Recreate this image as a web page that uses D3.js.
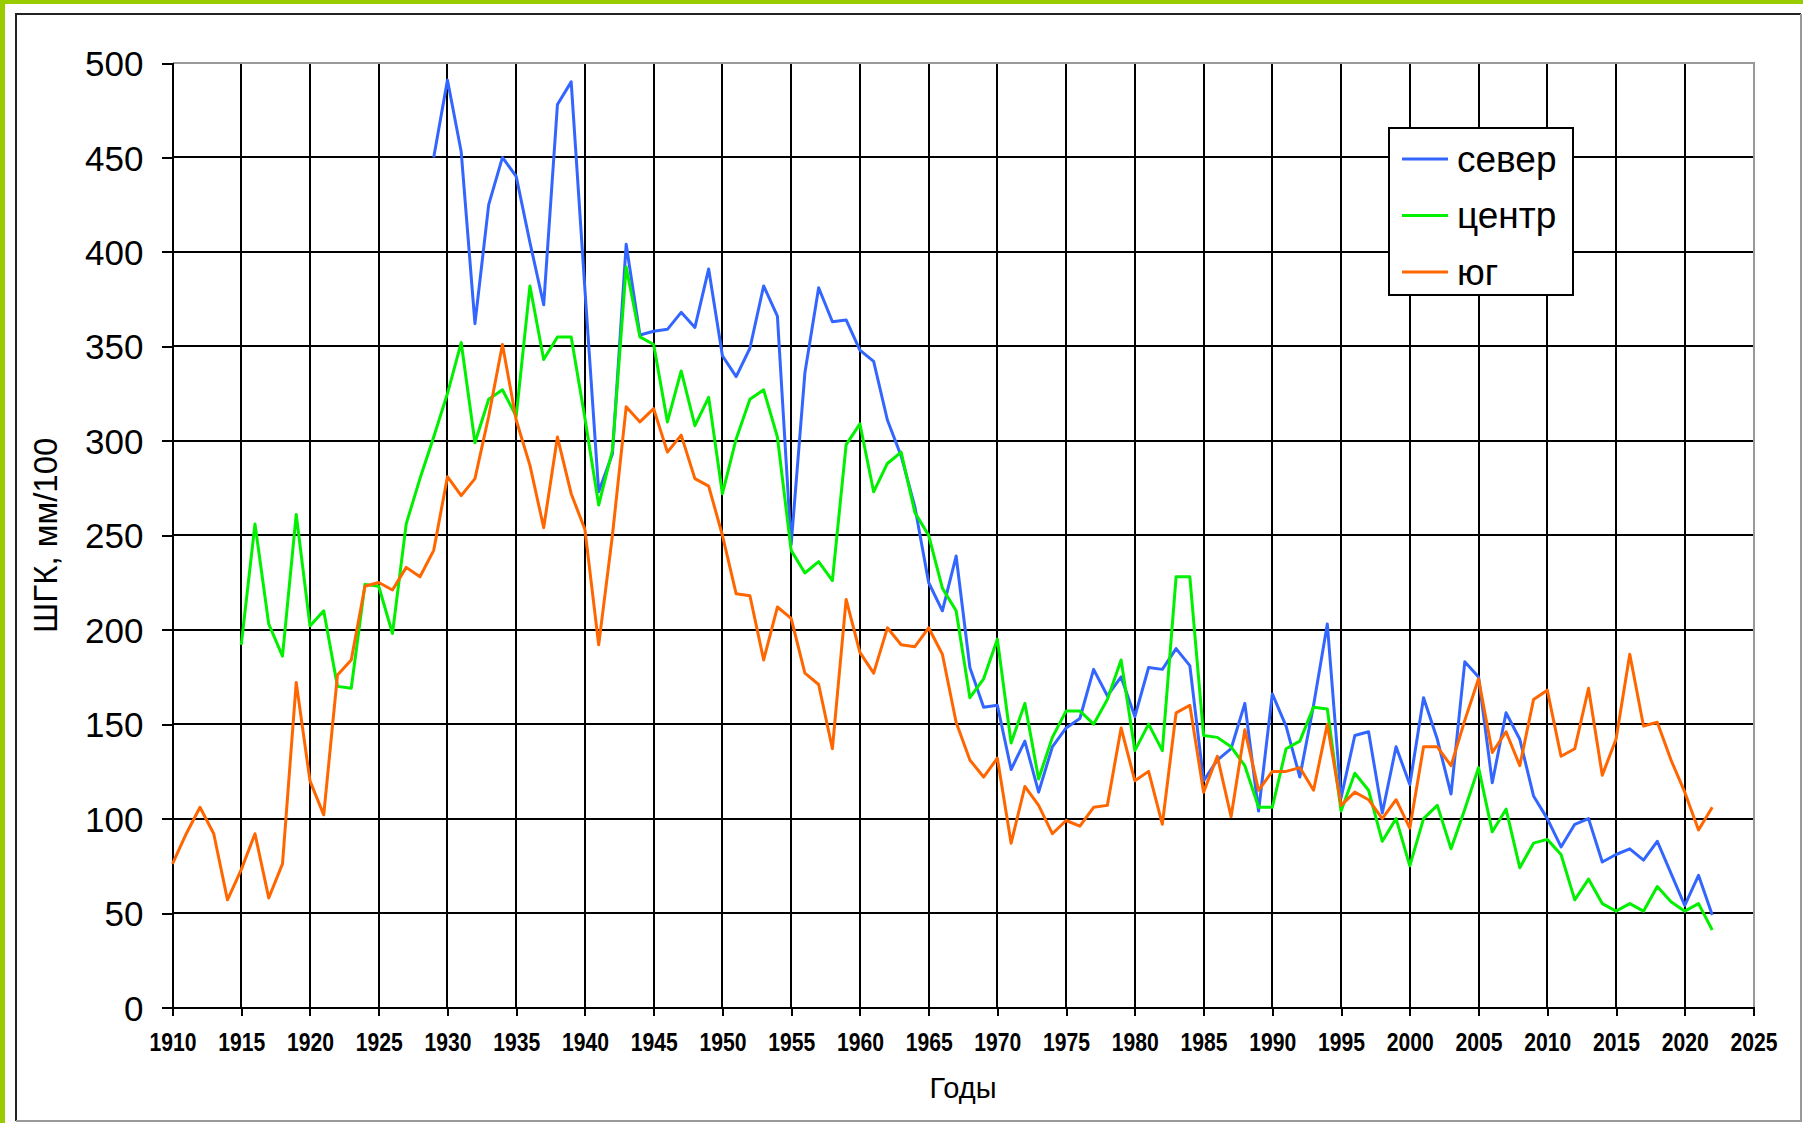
<!DOCTYPE html>
<html>
<head>
<meta charset="utf-8">
<script src="https://cdn.jsdelivr.net/npm/d3@7"></script>
<style>
  html, body { margin: 0; padding: 0; background: #fff; }
  svg { display: block; }
  text { font-family: "Liberation Sans", Arial, sans-serif; fill: #000; }
</style>
</head>
<body>
<svg width="1803" height="1123"></svg>
<script>
// ---- data (ШГК, мм/100) ----
const severStart = 1929;
const sever = [450, 491, 453, 362, 425, 450, 440, 405, 372, 478,
  490, 380, 273, 293, 404, 356, 358, 359, 368, 360,
  391, 345, 334, 349, 382, 366, 245, 336, 381, 363,
  364, 348, 342, 311, 292, 265, 225, 210, 239, 180,
  159, 160, 126, 141, 114, 138, 148, 153, 179, 165,
  175, 154, 180, 179, 190, 181, 120, 131, 137, 161,
  104, 166, 149, 122, 160, 203, 111, 144, 146, 103,
  138, 118, 164, 142, 113, 183, 175, 119, 156, 142,
  112, 100, 85, 97, 100, 77, 81, 84, 78, 88,
  71, 54, 70, 49];

const centrStart = 1915;
const centr = [192, 256, 203, 186, 261, 202, 210, 170, 169, 224,
  223, 198, 256, 280, 302, 325, 352, 299, 322, 327,
  313, 382, 343, 355, 355, 312, 266, 295, 392, 355,
  351, 310, 337, 308, 323, 272, 301, 322, 327, 302,
  242, 230, 236, 226, 298, 309, 273, 288, 294, 262,
  250, 222, 210, 164, 174, 195, 140, 161, 121, 143,
  157, 157, 150, 163, 184, 136, 150, 136, 228, 228,
  144, 143, 138, 128, 106, 106, 137, 141, 159, 158,
  104, 124, 115, 88, 100, 75, 100, 107, 84, 105,
  127, 93, 105, 74, 87, 89, 81, 57, 68, 55,
  51, 55, 51, 64, 56, 51, 55, 41];

const yugStart = 1910;
const yug = [76, 92, 106, 92, 57, 73, 92, 58, 76, 172,
  120, 102, 176, 184, 223, 225, 221, 233, 228, 242,
  281, 271, 280, 313, 351, 311, 287, 254, 302, 272,
  253, 192, 250, 318, 310, 317, 294, 303, 280, 276,
  250, 219, 218, 184, 212, 206, 177, 171, 137, 216,
  188, 177, 201, 192, 191, 201, 187, 151, 131, 122,
  132, 87, 117, 107, 92, 99, 96, 106, 107, 148,
  120, 125, 97, 156, 160, 114, 133, 101, 147, 115,
  125, 125, 127, 115, 150, 107, 114, 110, 100, 110,
  95, 138, 138, 128, 152, 174, 135, 146, 128, 163,
  168, 133, 137, 169, 123, 142, 187, 149, 151, 131,
  114, 94, 106];

const seriesNames = ["север", "центр", "юг"];
const seriesColors = ["#3366ff", "#00f000", "#ff6600"];
const yTicks = [0, 50, 100, 150, 200, 250, 300, 350, 400, 450, 500];
const xTicks = [1910, 1915, 1920, 1925, 1930, 1935, 1940, 1945, 1950, 1955, 1960, 1965,
  1970, 1975, 1980, 1985, 1990, 1995, 2000, 2005, 2010, 2015, 2020, 2025];
const xTitle = "Годы";
const yTitle = "ШГК, мм/100";

const svg = d3.select("svg");

// plot box
const pLeft = 172.5, pRight = 1753.5, pTop = 63, pBottom = 1007.5;
const x = d3.scaleLinear().domain([1910, 2025]).range([pLeft, pRight]);
const y = d3.scaleLinear().domain([0, 500]).range([pBottom, pTop]);

// page background + green edge + chart frame
svg.append("rect").attr("width", 1803).attr("height", 1123).attr("fill", "#fff");
svg.append("rect").attr("x", 0).attr("y", 0).attr("width", 1803).attr("height", 4).attr("fill", "#99cc00");
svg.append("rect").attr("x", 0).attr("y", 0).attr("width", 5).attr("height", 1123).attr("fill", "#99cc00");
svg.append("path").attr("d", "M16,1121V14H1801").attr("fill", "none").attr("stroke", "#222").attr("stroke-width", 2);
svg.append("path").attr("d", "M1801,14V1121H16").attr("fill", "none").attr("stroke", "#999").attr("stroke-width", 2);

// grid (black), skipping the edges
const grid = svg.append("g").attr("stroke", "#000").attr("stroke-width", 2).attr("shape-rendering", "crispEdges");
grid.selectAll(".gv").data(xTicks.slice(1, -1)).enter().append("line")
  .attr("x1", d => x(d)).attr("x2", d => x(d)).attr("y1", pTop).attr("y2", pBottom);
grid.selectAll(".gh").data(yTicks.slice(1, -1)).enter().append("line")
  .attr("x1", pLeft).attr("x2", pRight).attr("y1", d => y(d)).attr("y2", d => y(d));

// top / right border of the plot is grey
svg.append("path").attr("d", `M${pLeft},${pTop}H${pRight}V${pBottom}`)
  .attr("fill", "none").attr("stroke", "#999").attr("stroke-width", 2).attr("shape-rendering", "crispEdges");

// axes
const yAxis = svg.append("g").attr("transform", `translate(${pLeft},0)`)
  .call(d3.axisLeft(y).tickValues(yTicks).tickSize(11).tickPadding(18));
yAxis.selectAll("text").attr("font-size", 35).attr("dy", "0.36em")
  .style("font-family", "'Liberation Sans', Arial, sans-serif");

const xAxis = svg.append("g").attr("transform", `translate(0,${pBottom})`)
  .call(d3.axisBottom(x).tickValues(xTicks).tickFormat(d3.format("d")).tickSize(8).tickPadding(17));
// narrow bold labels: squeeze regular bold glyphs
xAxis.selectAll("text").attr("font-size", 26).attr("font-weight", "bold")
  .attr("textLength", 47).attr("lengthAdjust", "spacingAndGlyphs")
  .style("font-family", "'Liberation Sans', Arial, sans-serif");

[yAxis, xAxis].forEach(g => {
  g.selectAll("line").attr("stroke", "#000").attr("stroke-width", 2);
  g.select(".domain").attr("stroke", "#000").attr("stroke-width", 2);
  g.attr("shape-rendering", "crispEdges");
});

// titles
svg.append("text").attr("x", (pLeft + pRight) / 2).attr("y", 1098)
  .attr("text-anchor", "middle").attr("font-size", 29).attr("fill", "#222").text(xTitle);
svg.append("text").attr("transform", `translate(57,${(pTop + pBottom) / 2}) rotate(-90)`)
  .attr("text-anchor", "middle").attr("font-size", 33).text(yTitle);

// series lines
const toPoints = (start, vals) => vals.map((v, i) => ({ year: start + i, value: v }));
const series = [toPoints(severStart, sever), toPoints(centrStart, centr), toPoints(yugStart, yug)];

const line = d3.line().x(d => x(d.year)).y(d => y(d.value));
svg.append("g").selectAll("path").data(series).enter().append("path")
  .attr("d", line)
  .attr("fill", "none")
  .attr("stroke", (d, i) => seriesColors[i])
  .attr("stroke-width", 3)
  .attr("stroke-linejoin", "round");

// legend
const legend = svg.append("g");
legend.append("rect").attr("x", 1389).attr("y", 128).attr("width", 184).attr("height", 167)
  .attr("fill", "#fff").attr("stroke", "#000").attr("stroke-width", 2);
const rows = legend.selectAll(".row").data(seriesNames).enter().append("g")
  .attr("transform", (d, i) => `translate(0,${159 + i * 56.5})`);
rows.append("line").attr("x1", 1402).attr("x2", 1448).attr("y1", 0).attr("y2", 0)
  .attr("stroke", (d, i) => seriesColors[i]).attr("stroke-width", 3);
rows.append("text").attr("x", 1457).attr("y", 12.5).attr("font-size", 37).text(d => d);
</script>
</body>
</html>
